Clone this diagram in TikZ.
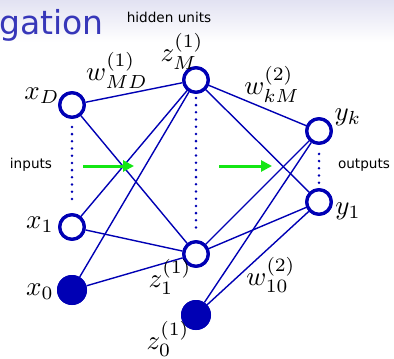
\documentclass[tikz,border=0pt]{standalone}
\usepackage{fontspec}
\newfontfamily\labfont{DejaVu Sans}
\usetikzlibrary{arrows.meta}
\definecolor{netblue}{RGB}{0,0,180}
\definecolor{titleblue}{RGB}{55,55,185}
\definecolor{arrgreen}{RGB}{20,230,20}
\definecolor{bgtop}{RGB}{226,226,242}
\tikzset{
  unit/.style={circle,draw=netblue,line width=3.3pt,fill=white,minimum size=24.5pt,inner sep=0pt},
  biasunit/.style={circle,fill=netblue,minimum size=30pt,inner sep=0pt},
  wire/.style={netblue,line width=1.4pt},
  vdots/.style={netblue,line width=2.8pt,line cap=round,dash pattern=on 0pt off 7.2pt},
  flow/.style={arrgreen,line width=3pt,-{Triangle[length=11pt,width=11pt]}},
  mlab/.style={font=\fontsize{10}{12}\selectfont,inner sep=0pt,scale=2.7},
  tlab/.style={font=\labfont\fontsize{13.6}{16}\selectfont,inner sep=0pt}
}
\begin{document}
\begin{tikzpicture}[x=1pt,y=-1pt]
\useasboundingbox (0,0) rectangle (394,359);
\shade[top color=bgtop,bottom color=white] (0,0) rectangle (394,42);
\node[anchor=base west,inner sep=0pt,text=titleblue,font=\labfont\fontsize{33}{36}\selectfont] (title) at (-1,34) {gation};
\node[tlab] (hid) at (169,17) {hidden units};
\node[tlab] (inp) at (31,165) {inputs};
\node[tlab] (outp) at (364,165) {outputs};
% units (placed first for naming)
\node[unit] (xD) at (72,105) {};
\node[unit] (x1) at (72,227) {};
\node[biasunit] (x0) at (72,290) {};
\node[unit] (zM) at (196,80) {};
\node[unit] (z1) at (196,254) {};
\node[biasunit] (z0) at (196,315) {};
\node[unit] (yk) at (319,131) {};
\node[unit] (y1) at (319,202) {};
% wires
\foreach \a in {xD,x1,x0} {
  \draw[wire] (\a) -- (zM);
  \draw[wire] (\a) -- (z1);
}
\foreach \a in {zM,z1,z0} {
  \draw[wire] (\a) -- (yk);
  \draw[wire] (\a) -- (y1);
}
% redraw units on top of wires
\node[unit] at (xD) {};
\node[unit] at (x1) {};
\node[biasunit] at (x0) {};
\node[unit] at (zM) {};
\node[unit] at (z1) {};
\node[biasunit] at (z0) {};
\node[unit] at (yk) {};
\node[unit] at (y1) {};
% dotted
\draw[vdots] ([yshift=-8pt]xD.south) -- ([yshift=8pt]x1.north);
\draw[vdots] ([yshift=-4pt]zM.south) -- ([yshift=6pt]z1.north);
\draw[vdots] ([yshift=-9pt]yk.south) -- ([yshift=5pt]y1.north);
% green arrows
\coordinate (g1s) at (83,166);
\coordinate (g1e) at (134,166);
\coordinate (g2s) at (219,166);
\coordinate (g2e) at (272,166);
\draw[flow] (g1s) -- (g1e);
\draw[flow] (g2s) -- (g2e);
% labels
\node[mlab] (lxD) at (42,96) {$x_D$};
\node[mlab] (lx1) at (40,225) {$x_1$};
\node[mlab] (lx0) at (40,292) {$x_0$};
\node[mlab] (lw1) at (117,70) {$w^{(1)}_{MD}$};
\node[mlab] (lzM) at (182,51) {$z^{(1)}_M$};
\node[mlab] (lw2) at (272,84) {$w^{(2)}_{kM}$};
\node[mlab] (lyk) at (348,117) {$y_k$};
\node[mlab] (ly1) at (348,211) {$y_1$};
\node[mlab] (lz1) at (170,277) {$z^{(1)}_1$};
\node[mlab,anchor=south] (lz0) at (168,357) {$z^{(1)}_0$};
\node[mlab] (lw10) at (271,275) {$w^{(2)}_{10}$};
\end{tikzpicture}
\end{document}
